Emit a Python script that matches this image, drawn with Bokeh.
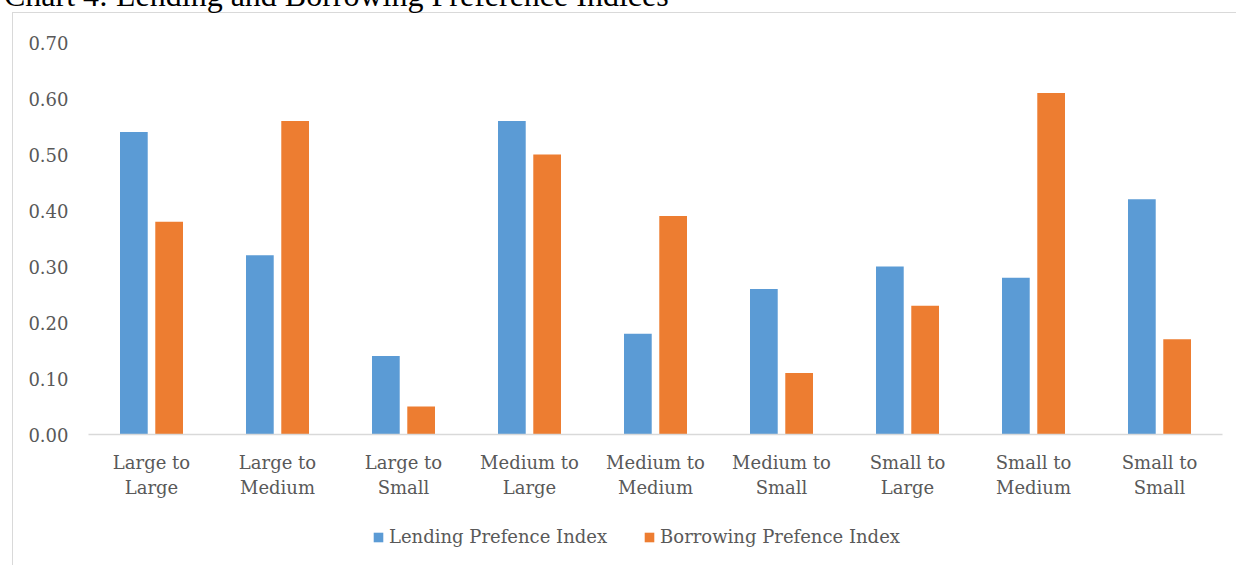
from bokeh.plotting import figure
from bokeh.models import (FactorRange, Range1d, FixedTicker, NumeralTickFormatter,
                          Legend, LegendItem, ColumnDataSource, Div)
from bokeh.layouts import column
from bokeh.transform import dodge
from bokeh.embed import file_html
from bokeh.resources import INLINE

categories = ["Large to\nLarge", "Large to\nMedium", "Large to\nSmall",
              "Medium to\nLarge", "Medium to\nMedium", "Medium to\nSmall",
              "Small to\nLarge", "Small to\nMedium", "Small to\nSmall"]
lending = [0.54, 0.32, 0.14, 0.56, 0.18, 0.26, 0.30, 0.28, 0.42]
borrowing = [0.38, 0.56, 0.05, 0.50, 0.39, 0.11, 0.23, 0.61, 0.17]
y_ticks = [0.0, 0.1, 0.2, 0.3, 0.4, 0.5, 0.6, 0.7]
title_text = "Chart 4: Lending and Borrowing Preference Indices"
series_names = ["Lending Prefence Index", "Borrowing Prefence Index"]

BLUE = "#5B9BD5"
ORANGE = "#ED7D31"
GRAY = "#595959"
LINE = "#d9d9d9"
FONT = "DejaVu Serif"

# ---- title strip (partly above the window, as in the reference) ----
title_div = Div(
    text=f'<div style="position:relative; top:-21px; left:4px; white-space:nowrap; '
         f'font-family:\'Liberation Serif\'; font-size:32px; line-height:32px; '
         f'color:black;">{title_text}</div>',
    width=1236, height=12, margin=0)

# ---- main chart ----
src = ColumnDataSource(dict(cat=categories, lending=lending, borrowing=borrowing))

p = figure(width=1236, height=503, x_range=FactorRange(factors=categories),
           y_range=Range1d(0, 0.7), output_backend="svg", toolbar_location=None,
           min_border_left=88, min_border_right=14, min_border_top=30,
           min_border_bottom=81, margin=0)
p.outline_line_color = None
p.background_fill_color = None
p.border_fill_color = None
p.xgrid.visible = False
p.ygrid.visible = False
p.x_range.range_padding = 0

r1 = p.vbar(x=dodge("cat", -0.14, range=p.x_range), top="lending", width=0.22,
            source=src, fill_color=BLUE, line_color=None)
r2 = p.vbar(x=dodge("cat", 0.14, range=p.x_range), top="borrowing", width=0.22,
            source=src, fill_color=ORANGE, line_color=None)

xa = p.xaxis[0]
xa.axis_line_color = LINE
xa.axis_line_width = 1.5
xa.major_tick_line_color = None
xa.minor_tick_line_color = None
xa.major_tick_out = 0
xa.major_label_text_font = FONT
xa.major_label_text_font_size = "18px"
xa.major_label_text_color = GRAY
xa.major_label_text_line_height = 1.2
xa.major_label_standoff = 17

ya = p.yaxis[0]
ya.axis_line_color = None
ya.major_tick_line_color = None
ya.minor_tick_line_color = None
ya.major_tick_out = 0
ya.ticker = FixedTicker(ticks=y_ticks)
ya.formatter = NumeralTickFormatter(format="0.00")
ya.major_label_text_font = FONT
ya.major_label_text_font_size = "18px"
ya.major_label_text_color = GRAY
ya.major_label_standoff = 20

# ---- legend strip (its swatch renderers sit below the visible range) ----
lg = figure(width=1236, height=50, x_range=FactorRange(factors=categories),
            y_range=Range1d(1, 2), output_backend="svg", toolbar_location=None,
            x_axis_location=None, y_axis_location=None,
            min_border_left=0, min_border_right=0, min_border_top=0,
            min_border_bottom=0, margin=0)
lg.outline_line_color = None
lg.background_fill_color = None
lg.border_fill_color = None
lg.xgrid.visible = False
lg.ygrid.visible = False
s1 = lg.vbar(x="cat", top="lending", width=0.22, source=src,
             fill_color=BLUE, line_color=None)
s2 = lg.vbar(x="cat", top="borrowing", width=0.22, source=src,
             fill_color=ORANGE, line_color=None)

legend = Legend(items=[LegendItem(label=series_names[0], renderers=[s1]),
                       LegendItem(label=series_names[1], renderers=[s2])],
                orientation="horizontal", location=(284, 18),
                label_text_font=FONT, label_text_font_size="18px",
                label_text_color=GRAY, glyph_width=12, glyph_height=12,
                label_height=20, label_standoff=5, spacing=36, padding=0,
                margin=0, border_line_color=None, background_fill_alpha=0)
lg.add_layout(legend, "center")

layout = column(title_div, p, lg, spacing=0, margin=0)
layout.styles = {
    "background-color": "white",
    "background-image": f"linear-gradient({LINE}, {LINE}), linear-gradient({LINE}, {LINE})",
    "background-size": "100% 1px, 1px 100%",
    "background-position": "12px 12px, 12px 12px",
    "background-repeat": "no-repeat",
}

open("out.html", "w").write(file_html(layout, INLINE))
